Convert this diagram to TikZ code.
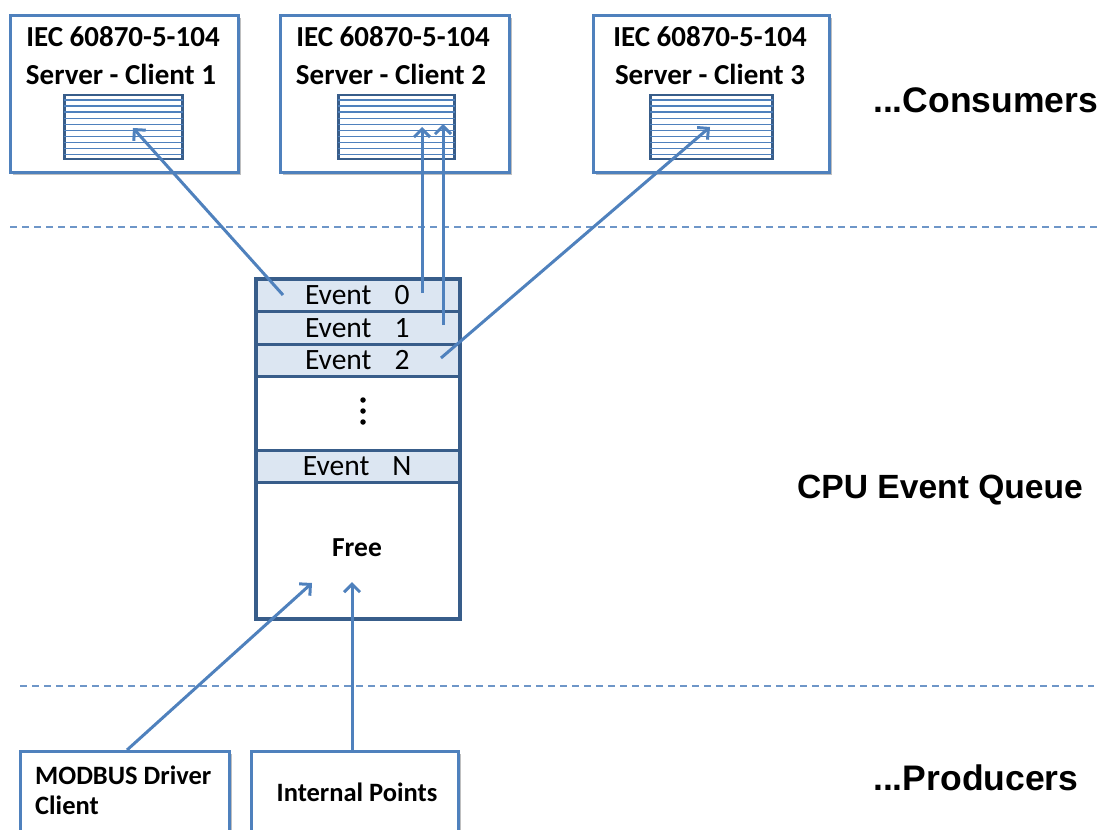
\documentclass[tikz,border=0pt]{standalone}
\usepackage{fontspec}
\setmainfont{Carlito}
\newfontfamily\arialf{Liberation Sans}
\usetikzlibrary{arrows.meta,shadows,calc}
\definecolor{bbord}{RGB}{79,129,189}
\definecolor{dbord}{RGB}{56,93,138}
\definecolor{rowfill}{RGB}{220,230,242}
\definecolor{arrc}{RGB}{79,129,189}
\definecolor{dashc}{RGB}{110,150,200}
\begin{document}
\begin{tikzpicture}[x=1pt,y=-1pt,
  box/.style={draw=bbord, line width=3pt, fill=white, rectangle, inner sep=0pt, anchor=north west,
    drop shadow={shadow xshift=2.5pt, shadow yshift=-2.5pt, opacity=0.25, fill=black}},
  stripebox/.style={draw=dbord, line width=2.5pt, fill=white, rectangle, inner sep=0pt, anchor=north west},
  stripe/.style={draw=bbord, line width=1.3pt},
  title/.style={font=\fontsize{29}{31}\selectfont\bfseries, inner sep=0pt},
  qrow/.style={draw=dbord, line width=2.5pt, fill=rowfill, rectangle, inner sep=0pt, anchor=north west,
    minimum width=204pt, font=\fontsize{29.5}{31}\selectfont},
  qfree/.style={draw=dbord, line width=2.5pt, fill=white, rectangle, inner sep=0pt, anchor=north west, minimum width=204pt},
  qouter/.style={draw=dbord, line width=3.5pt, rectangle, inner sep=0pt, anchor=north west},
  dots/.style={fill=black, circle, inner sep=0pt, minimum size=5.5pt},
  sep/.style={draw=dashc, line width=1.5pt, dash pattern=on 7pt off 5pt},
  conn/.style={draw=arrc, line width=3pt, -{Straight Barb[length=8pt,width=16pt,line width=3pt]}},
  side/.style={font=\arialf\fontsize{35.5}{37}\selectfont\bfseries, inner sep=0pt, anchor=west},
  small/.style={font=\fontsize{26.5}{28}\selectfont\bfseries, inner sep=0pt},
]
\useasboundingbox (0,0) rectangle (1099,829);

% separators
\coordinate (d1a) at (10,227);
\coordinate (d1b) at (1097,227);
\coordinate (d2a) at (20,686);
\coordinate (d2b) at (1094,686);
\draw[sep] (d1a) -- (d1b);
\draw[sep] (d2a) -- (d2b);

% consumer boxes
\node[box, minimum width=228pt, minimum height=157pt] (c1) at (9,14) {};
\node[box, minimum width=229pt, minimum height=157pt] (c2) at (279,14) {};
\node[box, minimum width=236pt, minimum height=157pt] (c3) at (592,14) {};
\node[title] (c1t1) at (123,37) {IEC 60870-5-104};
\node[title] (c1t2) at (121,74) {Server - Client 1};
\node[title] (c2t1) at (393,37) {IEC 60870-5-104};
\node[title] (c2t2) at (391,74) {Server - Client 2};
\node[title] (c3t1) at (710,37) {IEC 60870-5-104};
\node[title] (c3t2) at (710,74) {Server - Client 3};

\node[stripebox, minimum width=118pt, minimum height=64pt] (s1) at (63,94) {};
\node[stripebox, minimum width=116pt, minimum height=64pt] (s2) at (337,94) {};
\node[stripebox, minimum width=122pt, minimum height=64pt] (s3) at (649,94) {};
\foreach \s in {s1,s2,s3}{
  \foreach \i in {1,...,10}{
    \draw[stripe] ($(\s.north west)!\i/11!(\s.south west)+(1pt,0)$) -- ($(\s.north east)!\i/11!(\s.south east)+(-1pt,0)$);
  }
}

% queue
\node[qrow, minimum height=33pt] (q0) at (254,277) {Event\hspace{23pt}0};
\node[qrow, minimum height=33pt] (q1) at (254,310) {Event\hspace{23pt}1};
\node[qrow, minimum height=32pt] (q2) at (254,343) {Event\hspace{23pt}2};
\node[qfree, minimum height=74pt] (qd) at (254,375) {};
\node[qrow, minimum height=32pt] (qn) at (254,449) {Event\hspace{23pt}N};
\node[qfree, minimum height=136pt] (qf) at (254,481) {};
\node[qouter, minimum width=204pt, minimum height=340pt] (q) at (254,277) {};
\node[dots] (dt1) at (363,400) {};
\node[dots] (dt2) at (363,411) {};
\node[dots] (dt3) at (363,422) {};
\node[small, font=\fontsize{27.5}{29}\selectfont\bfseries] (free) at (357,548) {Free};

% producers
\node[box, minimum width=209pt, minimum height=100pt] (m) at (19,750) {};
\node[box, minimum width=207pt, minimum height=100pt] (ip) at (250,750) {};
\node[small, anchor=west] (mt1) at (35,775) {MODBUS Driver};
\node[small, anchor=west] (mt2) at (35,805) {Client};
\node[small] (ipt) at (357,792) {Internal Points};

% side labels
\node[side] (cons) at (873,100) {...Consumers};
\node[side, font=\arialf\fontsize{33.6}{35}\selectfont\bfseries] (cpu) at (797,490) {CPU Event Queue};
\node[side] (prod) at (873,778) {...Producers};

% connectors
\coordinate (e0) at (283,295);
\coordinate (t1) at (133,128);
\coordinate (e0b) at (422,293);
\coordinate (t2a) at (422,127);
\coordinate (e1) at (443,325);
\coordinate (t2b) at (443,124);
\coordinate (e2) at (441,358);
\coordinate (t3) at (710,127);
\coordinate (mo) at (127,750);
\coordinate (tf1) at (312,583);
\coordinate (ipo) at (352,750);
\coordinate (tf2) at (352,582);
\draw[conn] (e0) -- (t1);
\draw[conn] (e0b) -- (t2a);
\draw[conn] (e1) -- (t2b);
\draw[conn] (e2) -- (t3);
\draw[conn] (mo) -- (tf1);
\draw[conn] (ipo) -- (tf2);
\end{tikzpicture}
\end{document}
